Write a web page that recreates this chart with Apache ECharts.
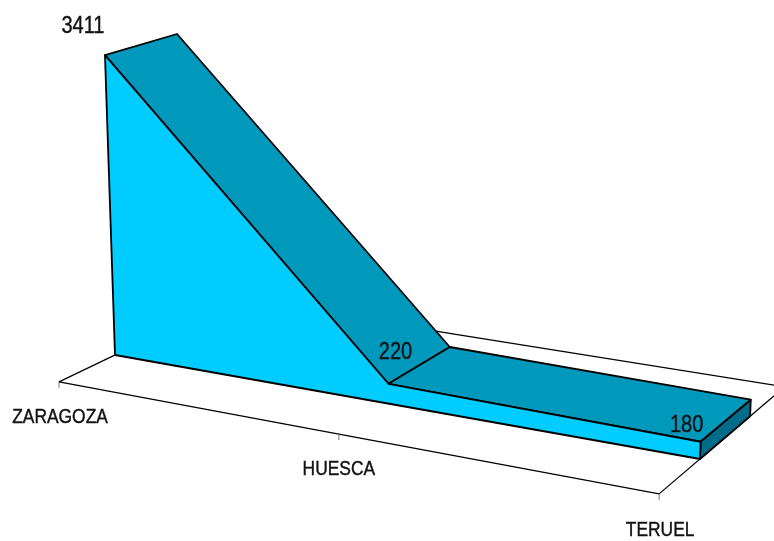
<!DOCTYPE html>
<html><head><meta charset="utf-8">
<style>html,body{margin:0;padding:0;background:#fff}#c{width:774px;height:541px}</style>
<script src="https://cdn.jsdelivr.net/npm/echarts@6/dist/echarts.min.js"></script>
</head><body><div id="c"></div>
<script>
const categories = ['ZARAGOZA', 'HUESCA', 'TERUEL'];
const values = [3411, 220, 180];

const yMax = 3411;
const FONT = '"Liberation Sans",sans-serif';
const TEXT_SQUEEZE = 0.87;
// Perspective projection (u: category position, h: value share, d: depth) -> page pixels
const CAM = {
  ox: 115, oy: 355, ux: 249.8, uy: 24, hx: -13.5, hy: -301.7, dx: 77.6, dy: -18.9,
  wu: -0.061, wh: -0.033, wd: 0.0448
};
const FLOOR_FRONT = -0.747, FLOOR_BACK = 1.747, TICK_LEN = 6;
const VALUE_LABEL_OFFSET = [[-22, -28], [7, -31], [-14, -16]];
const CATEGORY_LABEL_OFFSET = [[1, 36], [0, 35], [1, 37]];

function project(u, h, d) {
  const w = 1 + CAM.wu * u + CAM.wh * h + CAM.wd * d;
  return [(CAM.ox + CAM.ux * u + CAM.hx * h + CAM.dx * d) / w,
          (CAM.oy + CAM.uy * u + CAM.hy * h + CAM.dy * d) / w];
}
// Read the flat grid position from the axes, then project it
function uh(api, cs, cat, val) {
  const p = api.coord([cat, val]);
  return [(p[0] - cs.x) / cs.width * (categories.length - 1), (cs.y + cs.height - p[1]) / cs.height];
}
function poly(points, fill) {
  return { type: 'polygon', shape: { points }, style: { fill, stroke: '#000', lineWidth: 1.8, lineJoin: 'round' } };
}
function label(text, x, y, size) {
  return { type: 'text', x, y, scaleX: TEXT_SQUEEZE,
    style: { text, x: 0, y: 0, align: 'center', verticalAlign: 'middle', fill: '#111', stroke: '#111', lineWidth: 0.4, font: size + 'px ' + FONT } };
}

function renderFloor(params, api) {
  const cs = params.coordSys, i = params.dataIndex;
  const [u] = uh(api, cs, i, 0);
  const children = [];
  const base = project(u, 0, FLOOR_FRONT);
  children.push({ type: 'line', shape: { x1: base[0], y1: base[1], x2: base[0], y2: base[1] + TICK_LEN }, style: { stroke: '#777', lineWidth: 1 } });
  const off = CATEGORY_LABEL_OFFSET[i];
  children.push(label(categories[i], base[0] + off[0], base[1] + off[1], 20));
  if (i === 0 || i === categories.length - 1) {
    const back = project(u, 0, FLOOR_BACK);
    children.push({ type: 'line', shape: { x1: base[0], y1: base[1], x2: back[0], y2: back[1] }, style: { stroke: '#000', lineWidth: 1.2 } });
  }
  if (i < categories.length - 1) {
    const [u2] = uh(api, cs, i + 1, 0);
    [FLOOR_FRONT, FLOOR_BACK].forEach(d => {
      const a = project(u, 0, d), b = project(u2, 0, d);
      children.push({ type: 'line', shape: { x1: a[0], y1: a[1], x2: b[0], y2: b[1] }, style: { stroke: '#000', lineWidth: 1.2 } });
    });
  }
  return { type: 'group', children };
}

function renderArea(params, api) {
  const cs = params.coordSys, i = params.dataIndex;
  if (i !== 0) return { type: 'group', children: [] };
  const pts = values.map((v, k) => uh(api, cs, k, v));
  const children = [];
  // sloping top faces
  for (let k = 0; k < pts.length - 1; k++) {
    children.push(poly([project(pts[k][0], pts[k][1], 0), project(pts[k][0], pts[k][1], 1),
                        project(pts[k + 1][0], pts[k + 1][1], 1), project(pts[k + 1][0], pts[k + 1][1], 0)], '#0099BC'));
  }
  // end cap
  const l = pts[pts.length - 1];
  children.push(poly([project(l[0], l[1], 0), project(l[0], l[1], 1), project(l[0], 0, 1), project(l[0], 0, 0)], '#006C8A'));
  // front face
  const front = pts.map(p => project(p[0], p[1], 0));
  front.push(project(l[0], 0, 0), project(pts[0][0], 0, 0));
  children.push(poly(front, '#00CCFF'));
  // value labels
  pts.forEach((p, k) => {
    const a = project(p[0], p[1], 0), off = VALUE_LABEL_OFFSET[k];
    children.push(label(String(values[k]), a[0] + off[0], a[1] + off[1], 23));
  });
  return { type: 'group', children };
}

const chart = echarts.init(document.getElementById('c'), null, { renderer: 'canvas' });
chart.setOption({
  animation: false,
  backgroundColor: '#fff',
  grid: { left: 100, right: 100, top: 50, bottom: 100 },
  xAxis: { type: 'category', data: categories, boundaryGap: false, show: false },
  yAxis: { type: 'value', min: 0, max: yMax, show: false },
  series: [
    { type: 'custom', renderItem: renderFloor, coordinateSystem: 'cartesian2d', clip: false, silent: true, z: 1,
      data: values.map((v, i) => [i, v]), encode: { x: 0, y: 1 } },
    { type: 'custom', renderItem: renderArea, coordinateSystem: 'cartesian2d', clip: false, silent: true, z: 2,
      data: values.map((v, i) => [i, v]), encode: { x: 0, y: 1 } }
  ]
});
</script></body></html>
